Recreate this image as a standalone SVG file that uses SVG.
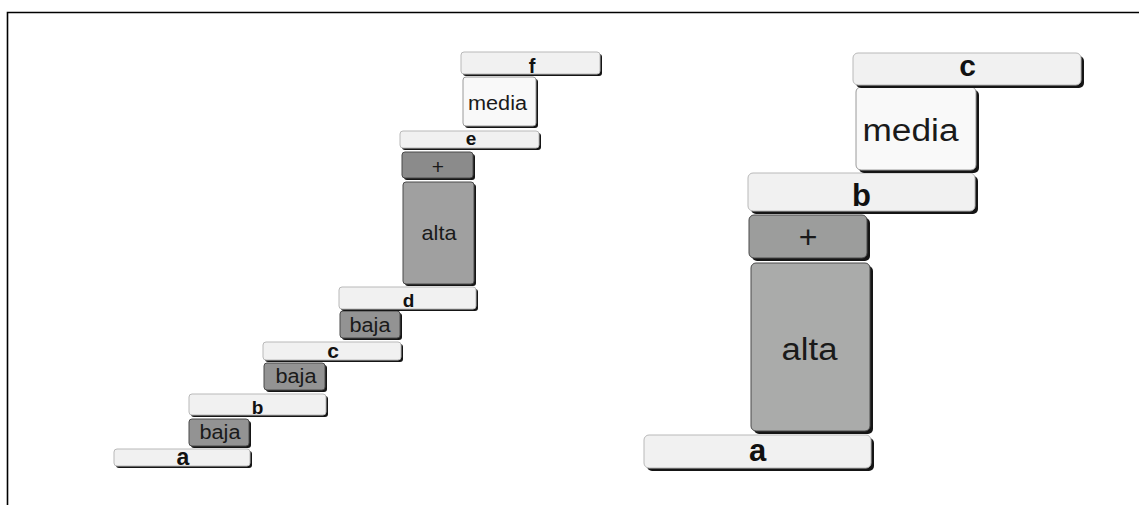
<svg xmlns="http://www.w3.org/2000/svg" width="1139" height="505" viewBox="0 0 1139 505">
<style>
.sh{fill:#151515}
.bar{fill:#f1f1f1;stroke:#b9b9b9;stroke-width:1}
.med{fill:#f9f9f9;stroke:#9a9a9a;stroke-width:1}
.lo{fill:#939393;stroke:#4a4a4a;stroke-width:1}
.pl{fill:#8b8b8b;stroke:#4a4a4a;stroke-width:1}
.hi{fill:#a0a0a0;stroke:#4a4a4a;stroke-width:1}
.pl2{fill:#9c9d9c;stroke:#4a4a4a;stroke-width:1}
.hi2{fill:#aaabaa;stroke:#4a4a4a;stroke-width:1}
text{font-family:"Liberation Sans",Arial,sans-serif;fill:#1a1a1a;text-anchor:middle}
.bd{font-weight:bold;fill:#111}
</style>
<path d="M7.5 505 V12.5 H1139" fill="none" stroke="#000" stroke-width="1.6"/>
<g id="left">
<g id="l-a"><rect class="sh" x="116" y="451" width="136" height="17" rx="3"/><rect class="bar" x="114" y="449" width="136" height="17" rx="3"/><text class="bd" x="183" y="465" font-size="23">a</text></g>
<g id="l-baja1"><rect class="sh" x="191" y="421" width="60" height="27" rx="3"/><rect class="lo" x="189" y="419" width="60" height="27" rx="3"/><text x="220" y="438.5" font-size="20" textLength="41" lengthAdjust="spacingAndGlyphs">baja</text></g>
<g id="l-b"><rect class="sh" x="191" y="396" width="137" height="21" rx="3"/><rect class="bar" x="189" y="394" width="137" height="21" rx="3"/><text class="bd" x="257.5" y="413.5" font-size="19">b</text></g>
<g id="l-baja2"><rect class="sh" x="266" y="365" width="61" height="27" rx="3"/><rect class="lo" x="264" y="363" width="61" height="27" rx="3"/><text x="296" y="382.5" font-size="20" textLength="41" lengthAdjust="spacingAndGlyphs">baja</text></g>
<g id="l-c"><rect class="sh" x="265" y="344" width="138" height="18" rx="3"/><rect class="bar" x="263" y="342" width="138" height="18" rx="3"/><text class="bd" x="333" y="357.5" font-size="21">c</text></g>
<g id="l-baja3"><rect class="sh" x="342" y="313" width="60" height="27" rx="3"/><rect class="lo" x="340" y="311" width="60" height="27" rx="3"/><text x="370" y="331.5" font-size="20" textLength="41" lengthAdjust="spacingAndGlyphs">baja</text></g>
<g id="l-d"><rect class="sh" x="341" y="289" width="137" height="22" rx="3"/><rect class="bar" x="339" y="287" width="137" height="22" rx="3"/><text class="bd" x="408.5" y="306.5" font-size="19">d</text></g>
<g id="l-alta"><rect class="sh" x="405" y="184" width="71" height="102" rx="3"/><rect class="hi" x="403" y="182" width="71" height="102" rx="3"/><text x="439" y="240" font-size="21" textLength="35" lengthAdjust="spacingAndGlyphs">alta</text></g>
<g id="l-plus"><rect class="sh" x="404" y="154" width="71" height="26" rx="3"/><rect class="pl" x="402" y="152" width="71" height="26" rx="3"/><text x="438" y="174" font-size="21">+</text></g>
<g id="l-e"><rect class="sh" x="402" y="133" width="139" height="17" rx="3"/><rect class="bar" x="400" y="131" width="139" height="17" rx="3"/><text class="bd" x="471" y="145" font-size="19">e</text></g>
<g id="l-media"><rect class="sh" x="465" y="79" width="73" height="49" rx="3"/><rect class="med" x="463" y="77" width="73" height="49" rx="3"/><text x="497.5" y="110" font-size="20" textLength="59" lengthAdjust="spacingAndGlyphs">media</text></g>
<g id="l-f"><rect class="sh" x="463" y="54" width="139" height="22" rx="3"/><rect class="bar" x="461" y="52" width="139" height="22" rx="3"/><text class="bd" x="532" y="73" font-size="20">f</text></g>
</g>
<g id="right">
<g id="r-a"><rect class="sh" x="647" y="438" width="227" height="33" rx="5"/><rect class="bar" x="644" y="435" width="227" height="33" rx="5"/><text class="bd" x="757.5" y="460.5" font-size="31">a</text></g>
<g id="r-alta"><rect class="sh" x="754" y="266" width="119" height="168" rx="5"/><rect class="hi2" x="751" y="263" width="119" height="168" rx="5"/><text x="809.5" y="360" font-size="31" textLength="56" lengthAdjust="spacingAndGlyphs">alta</text></g>
<g id="r-plus"><rect class="sh" x="752" y="218" width="118" height="43" rx="5"/><rect class="pl2" x="749" y="215" width="118" height="43" rx="5"/><text x="808" y="248" font-size="32">+</text></g>
<g id="r-b"><rect class="sh" x="751" y="176" width="227" height="38" rx="5"/><rect class="bar" x="748" y="173" width="227" height="38" rx="5"/><text class="bd" x="861.5" y="205.5" font-size="31">b</text></g>
<g id="r-media"><rect class="sh" x="859" y="90" width="120" height="83" rx="5"/><rect class="med" x="856" y="87" width="120" height="83" rx="5"/><text x="910.5" y="141" font-size="31" textLength="96" lengthAdjust="spacingAndGlyphs">media</text></g>
<g id="r-c"><rect class="sh" x="856" y="56" width="228" height="32" rx="5"/><rect class="bar" x="853" y="53" width="228" height="32" rx="5"/><text class="bd" x="967.5" y="76" font-size="30">c</text></g>
</g>
<g id="connectors"></g>
</svg>
